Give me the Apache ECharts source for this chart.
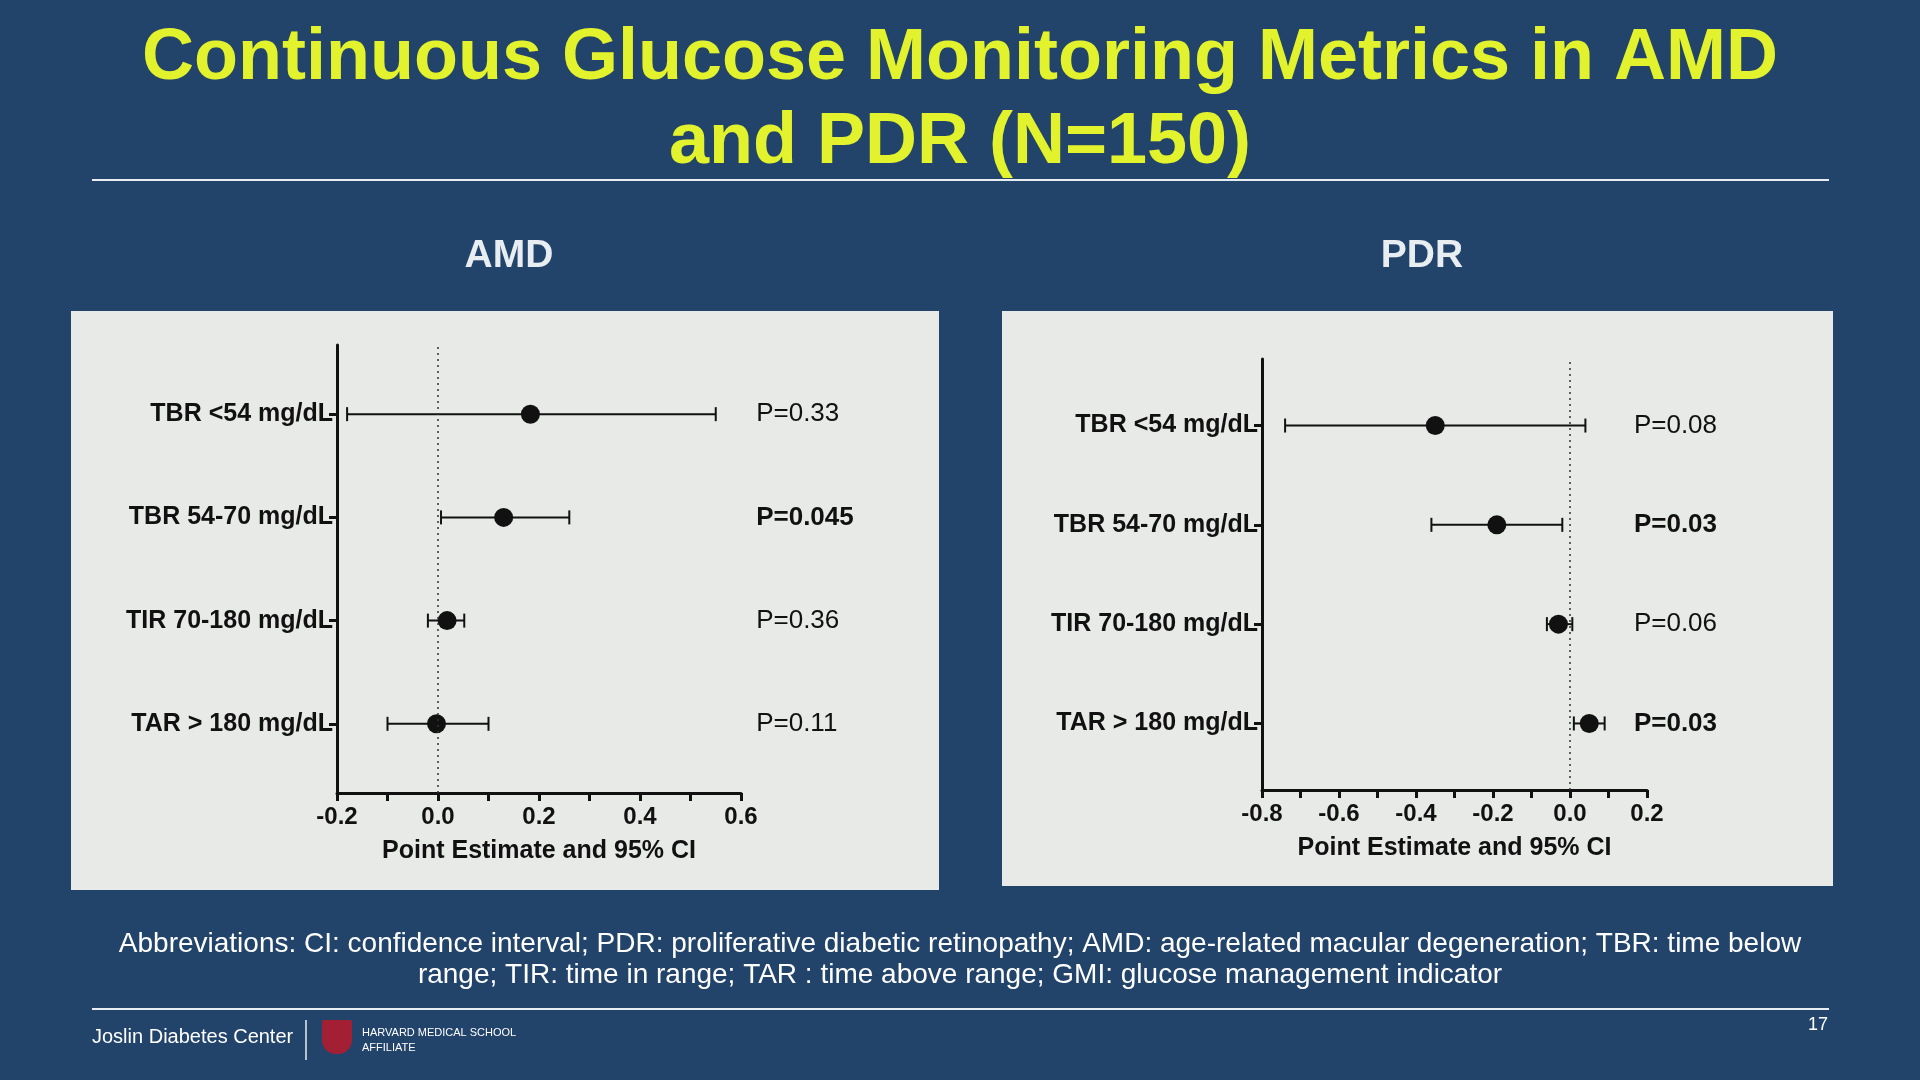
<!doctype html>
<html>
<head>
<meta charset="utf-8">
<title>CGM Metrics in AMD and PDR</title>
<script src="https://cdn.jsdelivr.net/npm/echarts@6/dist/echarts.min.js"></script>
<style>
  html, body { margin: 0; padding: 0; background: #22446b; }
  #chart { width: 1920px; height: 1080px; }
</style>
</head>
<body>
<div id="chart"></div>
<script>
// 指标类目（从上到下）
var categories = ['TBR <54 mg/dL', 'TBR 54-70 mg/dL', 'TIR 70-180 mg/dL', 'TAR > 180 mg/dL'];
// AMD 点估计与95% CI
var amdEst = [0.183, 0.13, 0.018, -0.003];
var amdLow = [-0.18, 0.006, -0.02, -0.10];
var amdHigh = [0.55, 0.26, 0.052, 0.10];
var amdP = ['P=0.33', 'P=0.045', 'P=0.36', 'P=0.11'];
var amdBold = [false, true, false, false];
// PDR 点估计与95% CI
var pdrEst = [-0.35, -0.19, -0.03, 0.05];
var pdrLow = [-0.74, -0.36, -0.06, 0.01];
var pdrHigh = [0.04, -0.02, 0.006, 0.09];
var pdrP = ['P=0.08', 'P=0.03', 'P=0.06', 'P=0.03'];
var pdrBold = [false, true, false, true];

var chart = echarts.init(document.getElementById('chart'));
var FONT = "'Liberation Sans', Arial, sans-serif";

function yPos(i) { return 4 - i; }

function errorSeries(idx, low, high) {
  return {
    type: 'custom', xAxisIndex: idx, yAxisIndex: idx, z: 3,
    data: low.map(function (v, i) { return [v, high[i], yPos(i)]; }),
    renderItem: function (params, api) {
      var a = api.coord([api.value(0), api.value(2)]);
      var b = api.coord([api.value(1), api.value(2)]);
      var h = 7;
      var st = { stroke: '#111', lineWidth: 2 };
      return { type: 'group', children: [
        { type: 'line', shape: { x1: a[0], y1: a[1], x2: b[0], y2: b[1] }, style: st },
        { type: 'line', shape: { x1: a[0], y1: a[1] - h, x2: a[0], y2: a[1] + h }, style: st },
        { type: 'line', shape: { x1: b[0], y1: b[1] - h, x2: b[0], y2: b[1] + h }, style: st }
      ] };
    }
  };
}

function pointSeries(idx, est) {
  return {
    type: 'scatter', xAxisIndex: idx, yAxisIndex: idx, z: 4,
    symbolSize: 19, itemStyle: { color: '#111', opacity: 1 },
    data: est.map(function (v, i) { return [v, yPos(i)]; }),
    markLine: {
      silent: true, symbol: 'none', label: { show: false },
      lineStyle: { color: '#333', type: [2, 4], width: 1.5 },
      data: [{ xAxis: 0 }]
    }
  };
}

function pSeries(idx, xv, labels, bold) {
  return {
    type: 'scatter', xAxisIndex: idx, yAxisIndex: idx, symbolSize: 0,
    clip: false, silent: true, itemStyle: { opacity: 1 },
    data: labels.map(function (t, i) {
      return { value: [xv, yPos(i)], label: { fontWeight: bold[i] ? 'bold' : 'normal' } };
    }),
    label: {
      show: true, position: 'right', distance: 0, color: '#111', fontSize: 26, fontFamily: FONT,
      formatter: function (p) { return labels[p.dataIndex]; }
    }
  };
}

function xAxis(idx, min, max) {
  return {
    gridIndex: idx, type: 'value', min: min, max: max, interval: 0.2,
    name: 'Point Estimate and 95% CI', nameLocation: 'middle', nameGap: 46,
    nameTextStyle: { color: '#111', fontWeight: 'bold', fontSize: 25, fontFamily: FONT },
    axisLine: { show: true, onZero: false, lineStyle: { color: '#111', width: 3 } },
    axisTick: { show: true, length: 8, lineStyle: { color: '#111', width: 3 } },
    minorTick: { show: true, splitNumber: 2, length: 8, lineStyle: { color: '#111', width: 3 } },
    splitLine: { show: false },
    axisLabel: { color: '#111', fontWeight: 'bold', fontSize: 24, fontFamily: FONT, margin: 12,
      formatter: function (v) { return v.toFixed(1); } }
  };
}

function yAxis(idx) {
  return {
    gridIndex: idx, type: 'value', min: 0.33, max: 4.67,
    axisLine: { show: true, onZero: false, lineStyle: { color: '#111', width: 3 } },
    axisTick: { show: true, length: 8, customValues: [1, 2, 3, 4], lineStyle: { color: '#111', width: 3 } },
    splitLine: { show: false },
    axisLabel: { color: '#111', fontWeight: 'bold', fontSize: 25, fontFamily: FONT, margin: 4,
      customValues: [1, 2, 3, 4],
      formatter: function (v) { return categories[4 - Math.round(v)]; } }
  };
}

var option = {
  backgroundColor: '#22446b',
  title: [
    { text: 'Continuous Glucose Monitoring Metrics in AMD\nand PDR (N=150)', left: 'center', top: 12,
      textStyle: { color: '#e2f22c', fontSize: 72, fontWeight: 'bold', fontFamily: FONT, lineHeight: 84 } },
    { text: 'AMD', left: 504, top: 232, textAlign: 'center',
      textStyle: { color: '#e8edf2', fontSize: 39, fontWeight: 'bold', fontFamily: FONT } },
    { text: 'PDR', left: 1417, top: 232, textAlign: 'center',
      textStyle: { color: '#e8edf2', fontSize: 39, fontWeight: 'bold', fontFamily: FONT } }
  ],
  graphic: [
    { type: 'line', shape: { x1: 92, y1: 180, x2: 1829, y2: 180 }, style: { stroke: '#e8edf2', lineWidth: 2 } },
    { type: 'rect', z: -10, shape: { x: 71, y: 311, width: 868, height: 579 }, style: { fill: '#e7eae6' } },
    { type: 'rect', z: -10, shape: { x: 1002, y: 311, width: 831, height: 575 }, style: { fill: '#e7eae6' } },
    { type: 'text', left: 'center', top: 929, style: {
      text: 'Abbreviations: CI: confidence interval; PDR: proliferative diabetic retinopathy; AMD: age-related macular degeneration; TBR: time below\nrange; TIR: time in range; TAR : time above range; GMI: glucose management indicator',
      fill: '#ffffff', font: '28px ' + FONT, textAlign: 'center', lineHeight: 31 } },
    { type: 'line', shape: { x1: 92, y1: 1009, x2: 1829, y2: 1009 }, style: { stroke: '#e8edf2', lineWidth: 2 } },
    { type: 'text', left: 92, top: 1027, style: { text: 'Joslin Diabetes Center', fill: '#ffffff', font: '20px ' + FONT } },
    { type: 'line', shape: { x1: 306, y1: 1020, x2: 306, y2: 1060 }, style: { stroke: '#e8edf2', lineWidth: 1.5 } },
    { type: 'rect', shape: { x: 322, y: 1020, width: 30, height: 34, r: [2, 2, 14, 14] }, style: { fill: '#a31f34' } },
    { type: 'text', left: 362, top: 1025, style: { text: 'HARVARD MEDICAL SCHOOL\nAFFILIATE', fill: '#ffffff', font: '11px ' + FONT, lineHeight: 15 } },
    { type: 'text', left: 1808, top: 1016, style: { text: '17', fill: '#ffffff', font: '18px ' + FONT } }
  ],
  grid: [
    { left: 337, width: 404, top: 345, height: 448 },
    { left: 1262, width: 385, top: 359, height: 431 }
  ],
  xAxis: [xAxis(0, -0.2, 0.6), xAxis(1, -0.8, 0.2)],
  yAxis: [yAxis(0), yAxis(1)],
  series: [
    errorSeries(0, amdLow, amdHigh), pointSeries(0, amdEst), pSeries(0, 0.63, amdP, amdBold),
    errorSeries(1, pdrLow, pdrHigh), pointSeries(1, pdrEst), pSeries(1, 0.166, pdrP, pdrBold)
  ]
};
chart.setOption(option);
</script>
</body>
</html>
